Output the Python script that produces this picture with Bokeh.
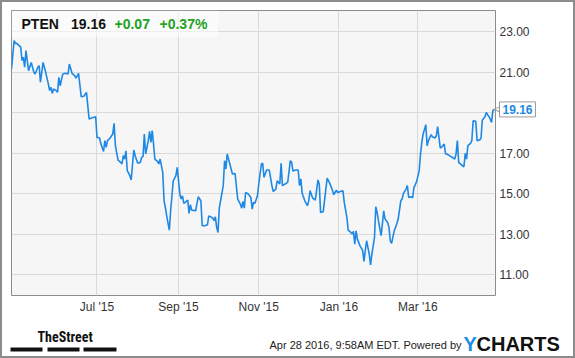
from datetime import datetime
import pandas as pd
from bokeh.plotting import figure
from bokeh.layouts import column
from bokeh.models import (Label, FixedTicker, NumeralTickFormatter, DatetimeTickFormatter,
                          Range1d, BoxAnnotation, ColumnDataSource)
from bokeh.embed import file_html
from bokeh.resources import INLINE

# ---------------- data ----------------
dates = [
    "2015-04-27", "2015-04-29", "2015-04-30",
    "2015-05-01", "2015-05-04", "2015-05-05", "2015-05-06", "2015-05-07", "2015-05-08", "2015-05-09",
    "2015-05-10", "2015-05-12", "2015-05-14", "2015-05-15", "2015-05-17", "2015-05-18", "2015-05-19",
    "2015-05-20", "2015-05-21", "2015-05-23", "2015-05-25", "2015-05-26", "2015-05-27", "2015-05-28",
    "2015-05-29", "2015-05-31",
    "2015-06-01", "2015-06-02", "2015-06-03", "2015-06-05", "2015-06-07", "2015-06-09", "2015-06-10",
    "2015-06-12", "2015-06-14", "2015-06-15", "2015-06-17", "2015-06-19", "2015-06-21", "2015-06-23",
    "2015-06-25", "2015-06-27", "2015-06-30",
    "2015-07-01", "2015-07-03", "2015-07-04", "2015-07-06", "2015-07-07", "2015-07-08", "2015-07-09",
    "2015-07-11", "2015-07-13", "2015-07-14", "2015-07-15", "2015-07-17", "2015-07-19", "2015-07-20",
    "2015-07-21", "2015-07-22", "2015-07-23", "2015-07-24", "2015-07-26", "2015-07-27", "2015-07-29",
    "2015-07-30",
    "2015-08-01", "2015-08-03", "2015-08-04", "2015-08-05", "2015-08-06", "2015-08-07", "2015-08-09",
    "2015-08-10", "2015-08-11", "2015-08-12", "2015-08-13", "2015-08-14", "2015-08-16", "2015-08-17",
    "2015-08-18", "2015-08-20", "2015-08-21", "2015-08-22", "2015-08-23", "2015-08-25", "2015-08-26",
    "2015-08-28", "2015-08-30", "2015-08-31",
    "2015-09-02", "2015-09-03", "2015-09-04", "2015-09-05", "2015-09-06", "2015-09-08", "2015-09-09",
    "2015-09-10", "2015-09-11", "2015-09-14", "2015-09-16", "2015-09-18", "2015-09-19", "2015-09-21",
    "2015-09-23", "2015-09-24", "2015-09-27", "2015-09-28", "2015-09-29", "2015-09-30",
    "2015-10-01", "2015-10-02", "2015-10-05", "2015-10-06", "2015-10-07", "2015-10-08", "2015-10-10",
    "2015-10-12", "2015-10-14", "2015-10-16", "2015-10-18", "2015-10-19", "2015-10-20", "2015-10-21",
    "2015-10-22", "2015-10-24", "2015-10-26", "2015-10-27", "2015-10-28", "2015-10-29", "2015-10-31",
    "2015-11-01", "2015-11-03", "2015-11-04", "2015-11-05", "2015-11-07", "2015-11-09", "2015-11-11",
    "2015-11-12", "2015-11-14", "2015-11-15", "2015-11-17", "2015-11-18", "2015-11-19", "2015-11-21",
    "2015-11-23", "2015-11-25", "2015-11-26", "2015-11-27", "2015-11-29",
    "2015-12-01", "2015-12-02", "2015-12-03", "2015-12-04", "2015-12-06", "2015-12-08", "2015-12-09",
    "2015-12-10", "2015-12-12", "2015-12-13", "2015-12-14", "2015-12-16", "2015-12-17", "2015-12-18",
    "2015-12-20", "2015-12-23", "2015-12-25", "2015-12-27", "2015-12-28", "2015-12-30", "2015-12-31",
    "2016-01-02", "2016-01-04", "2016-01-05", "2016-01-07", "2016-01-08", "2016-01-10", "2016-01-11",
    "2016-01-12", "2016-01-13", "2016-01-14", "2016-01-15", "2016-01-17", "2016-01-19", "2016-01-20",
    "2016-01-21", "2016-01-22", "2016-01-24", "2016-01-25", "2016-01-26", "2016-01-28", "2016-01-29",
    "2016-01-30", "2016-01-31",
    "2016-02-02", "2016-02-03", "2016-02-04", "2016-02-05", "2016-02-07", "2016-02-08", "2016-02-09",
    "2016-02-10", "2016-02-12", "2016-02-13", "2016-02-14", "2016-02-15", "2016-02-17", "2016-02-18",
    "2016-02-19", "2016-02-21", "2016-02-22", "2016-02-23", "2016-02-25", "2016-02-26", "2016-02-27",
    "2016-02-28", "2016-02-29",
    "2016-03-02", "2016-03-03", "2016-03-04", "2016-03-05", "2016-03-07", "2016-03-08", "2016-03-09",
    "2016-03-11", "2016-03-12", "2016-03-14", "2016-03-15", "2016-03-16", "2016-03-18", "2016-03-19",
    "2016-03-21", "2016-03-22", "2016-03-23", "2016-03-25", "2016-03-27", "2016-03-29", "2016-03-30",
    "2016-03-31",
    "2016-04-01", "2016-04-03", "2016-04-05", "2016-04-06", "2016-04-07", "2016-04-08", "2016-04-10",
    "2016-04-11", "2016-04-12", "2016-04-14", "2016-04-15", "2016-04-17", "2016-04-18", "2016-04-19",
    "2016-04-21", "2016-04-22", "2016-04-23", "2016-04-25", "2016-04-26", "2016-04-27", "2016-04-28",
]
prices = [
    21.16, 22.56, 22.42,
    22.42, 22.23, 21.57, 21.73, 21.24, 22.06, 21.57,
    21.07, 21.48, 20.99, 20.91, 21.24, 21.32, 20.50,
    20.99, 21.48, 20.99, 20.42, 20.09, 20.25, 19.95,
    20.17, 20.09,
    20.00, 20.74, 20.33, 20.91, 20.94, 20.91, 21.40,
    20.94, 20.83, 20.70, 20.94, 19.79, 19.81, 20.00,
    18.69, 18.74, 18.80,
    17.78, 17.75, 17.45, 17.09, 17.62, 17.29, 17.62,
    17.75, 17.95, 18.47, 17.37, 16.66, 16.55, 16.47,
    16.88, 16.71, 17.12, 16.14, 15.89, 15.68, 17.16,
    16.88,
    16.50, 16.55, 16.80, 16.83, 17.95, 16.96, 17.62,
    18.08, 17.53, 18.11, 17.45, 16.71, 16.60, 16.47,
    16.71, 16.05, 14.65, 14.32, 13.91, 13.20, 14.16,
    15.64, 15.89, 16.30,
    14.99, 14.74, 14.90, 14.52, 14.57, 14.69, 14.03,
    14.46, 14.19, 14.16, 14.85, 14.65, 13.42, 13.42,
    13.47, 13.91, 13.80, 13.67, 13.86, 13.34,
    13.09, 14.29, 15.40, 16.63, 16.22, 16.96, 16.47,
    15.97, 16.00, 14.74, 14.49, 14.29, 14.62, 14.29,
    15.06, 14.99, 14.82, 14.24, 14.57, 14.52, 14.90,
    15.48, 16.47, 16.50, 15.81, 16.17, 16.17, 15.40,
    15.11, 15.23, 15.64, 15.48, 16.50, 15.40, 15.48,
    15.56, 16.63, 16.55, 16.12, 16.17,
    16.17, 15.40, 15.73, 15.02, 14.65, 14.41, 14.65,
    15.15, 14.79, 14.74, 14.69, 15.68, 15.48, 14.08,
    14.11, 15.77, 15.51, 15.18, 14.95, 15.18, 15.06,
    15.11, 15.15, 14.57, 13.83, 13.20, 13.09, 13.01,
    13.14, 12.51, 13.17, 12.76, 12.43, 12.19, 11.66,
    12.19, 12.68, 12.02, 11.49, 12.02, 12.84, 14.36,
    14.08, 13.67,
    12.93, 13.50, 14.16, 13.75, 13.58, 13.34, 12.68,
    12.55, 13.17, 13.34, 13.53, 13.75, 14.65, 14.74,
    15.02, 15.23, 15.40, 14.82, 14.85, 14.79, 15.31,
    15.44, 15.60,
    16.14, 16.96, 17.53, 17.95, 18.41, 17.37, 17.62,
    17.91, 17.81, 17.75, 17.86, 18.31, 17.26, 17.29,
    17.45, 16.96, 16.96, 16.88, 16.80, 16.71, 16.96,
    17.62,
    16.55, 16.43, 16.33, 16.99, 16.71, 17.37, 17.48,
    17.62, 18.60, 18.57, 17.62, 17.65, 17.75, 18.64,
    18.80, 19.01, 18.90, 18.69, 18.52, 19.10, 19.16,
]

grid_y_ticks = [11, 13, 15, 17, 19, 21, 23]
label_y_ticks = [11, 13, 15, 17, 21, 23]     # 19.00 is hidden behind the price tag
x_tick_dates = ["2015-07-01", "2015-09-01", "2015-11-01", "2016-01-01", "2016-03-01"]
x_start, x_end = "2015-04-27", "2016-04-29"
y_low, y_high = 9.98, 24.04

ticker_symbol = "PTEN"
last_price = "19.16"
change_abs = "+0.07"
change_pct = "+0.37%"
timestamp_text = "Apr 28 2016, 9:58AM EDT.  Powered by"
brand_left = "TheStreet"

# ---------------- helpers ----------------
def ms(d):
    return pd.Timestamp(d).value // 10**6

FONT = "Liberation Sans"
LINE_BLUE = "#1e88e5"
GREEN = "#1ea21e"
B = 2  # outer css border

src = ColumnDataSource(dict(x=pd.to_datetime(dates), y=prices))

TOP_H = 318 - B
p = figure(width=575 - 2 * B, height=TOP_H, x_axis_type="datetime", y_axis_location="right",
           x_range=Range1d(ms(x_start), ms(x_end)), y_range=Range1d(y_low, y_high),
           output_backend="svg", toolbar_location=None,
           min_border_left=11 - B, min_border_right=(575 - B) - 495,
           min_border_top=10 - B, min_border_bottom=318 - 295)
p.frame_align = False

p.background_fill_color = "#f6f6f6"
p.border_fill_color = "white"
p.outline_line_color = "#8c8c8c"
p.outline_line_width = 1

p.line("x", "y", source=src, line_color=LINE_BLUE, line_width=1.6)

xt = FixedTicker(ticks=[ms(d) for d in x_tick_dates])
p.xgrid.ticker = xt
p.ygrid.ticker = FixedTicker(ticks=grid_y_ticks)
for g in (p.xgrid, p.ygrid):
    g.grid_line_color = "#d9d9d9"
    g.grid_line_width = 1

p.yaxis.ticker = FixedTicker(ticks=label_y_ticks)
p.yaxis.formatter = NumeralTickFormatter(format="0.00")
p.xaxis.ticker = xt
fmt = "%b '%y"
p.xaxis.formatter = DatetimeTickFormatter(days=fmt, months=fmt, years=fmt)
for ax in (p.xaxis, p.yaxis):
    ax.axis_line_color = None
    ax.major_tick_line_color = None
    ax.minor_tick_line_color = None
    ax.major_tick_in = 0
    ax.major_tick_out = 0
    ax.major_label_text_font = FONT
    ax.major_label_text_font_size = "12px"
    ax.major_label_text_color = "#333333"
p.yaxis.major_label_standoff = 4
p.xaxis.major_label_standoff = 4

# header box
p.add_layout(BoxAnnotation(right=ms("2015-10-01"), bottom=22.72, fill_color="white",
                           fill_alpha=0.55, line_color=None))

X0 = ms(x_start)

def lab(px, py, text, color="#111111", size="14px", style="bold", font=FONT, **kw):
    return Label(x=X0, y=y_high, x_offset=px - 11, y_offset=-(py - 10), text=text,
                 text_color=color, text_font_size=size, text_font_style=style,
                 text_font=font, text_baseline="middle", text_align="left", **kw)

p.add_layout(lab(21, 23, ticker_symbol))
p.add_layout(lab(70.5, 23, last_price))
p.add_layout(lab(114, 23, change_abs, color=GREEN))
p.add_layout(lab(159, 23, change_pct, color=GREEN))

# last price tag (side panel labels, canvas units)
p.add_layout(Label(x=499 - B, x_units="canvas", y=prices[-1], y_units="data", text=last_price,
                   text_color=LINE_BLUE, text_font=FONT, text_font_size="12px",
                   text_font_style="bold", text_baseline="middle", text_align="left",
                   background_fill_color="white", border_line_color="#9a9a9a",
                   padding=3), "right")
p.add_layout(Label(x=493 - B, x_units="canvas", y=prices[-1], y_units="data", text="<",
                   text_color="#9a9a9a", text_font=FONT, text_font_size="11px",
                   text_baseline="middle", text_align="left"), "left")

# ---------------- footer figure (pixel coordinates of the page) ----------------
f = figure(width=575 - 2 * B, height=358 - 318 - B, x_range=Range1d(B, 575 - B),
           y_range=Range1d(358 - B, 318), x_axis_location=None, y_axis_location=None,
           output_backend="svg", toolbar_location=None,
           min_border=0, min_border_left=0, min_border_right=0, min_border_top=0, min_border_bottom=0)
f.frame_align = False
f.outline_line_color = None
f.background_fill_color = "white"
f.border_fill_color = "white"
f.grid.visible = False

def flab(px, py, text, color="#111111", size="11px", style="normal", font=FONT):
    return Label(x=px, y=py, text=text, text_color=color, text_font_size=size,
                 text_font_style=style, text_font=font, text_baseline="middle", text_align="left")

f.add_layout(flab(37, 336, brand_left, size="14px", style="bold",
                  font="Roboto Condensed, Roboto"))
f.quad(left=[10, 47, 83], right=[42, 79, 116], top=[347, 347, 347], bottom=[351, 351, 351],
       fill_color="#111111", line_color=None)
f.add_layout(flab(269, 344, timestamp_text, color="#222222"))
f.add_layout(flab(463, 343, "Y", color="#1a8fe3", size="20px", style="bold"))
f.add_layout(flab(476, 343, "CHARTS", color="#111111", size="20px", style="bold"))

layout = column(p, f, spacing=0, styles={"border": f"{B}px solid #8c8c8c"})

open("out.html", "w").write(file_html(layout, INLINE))
